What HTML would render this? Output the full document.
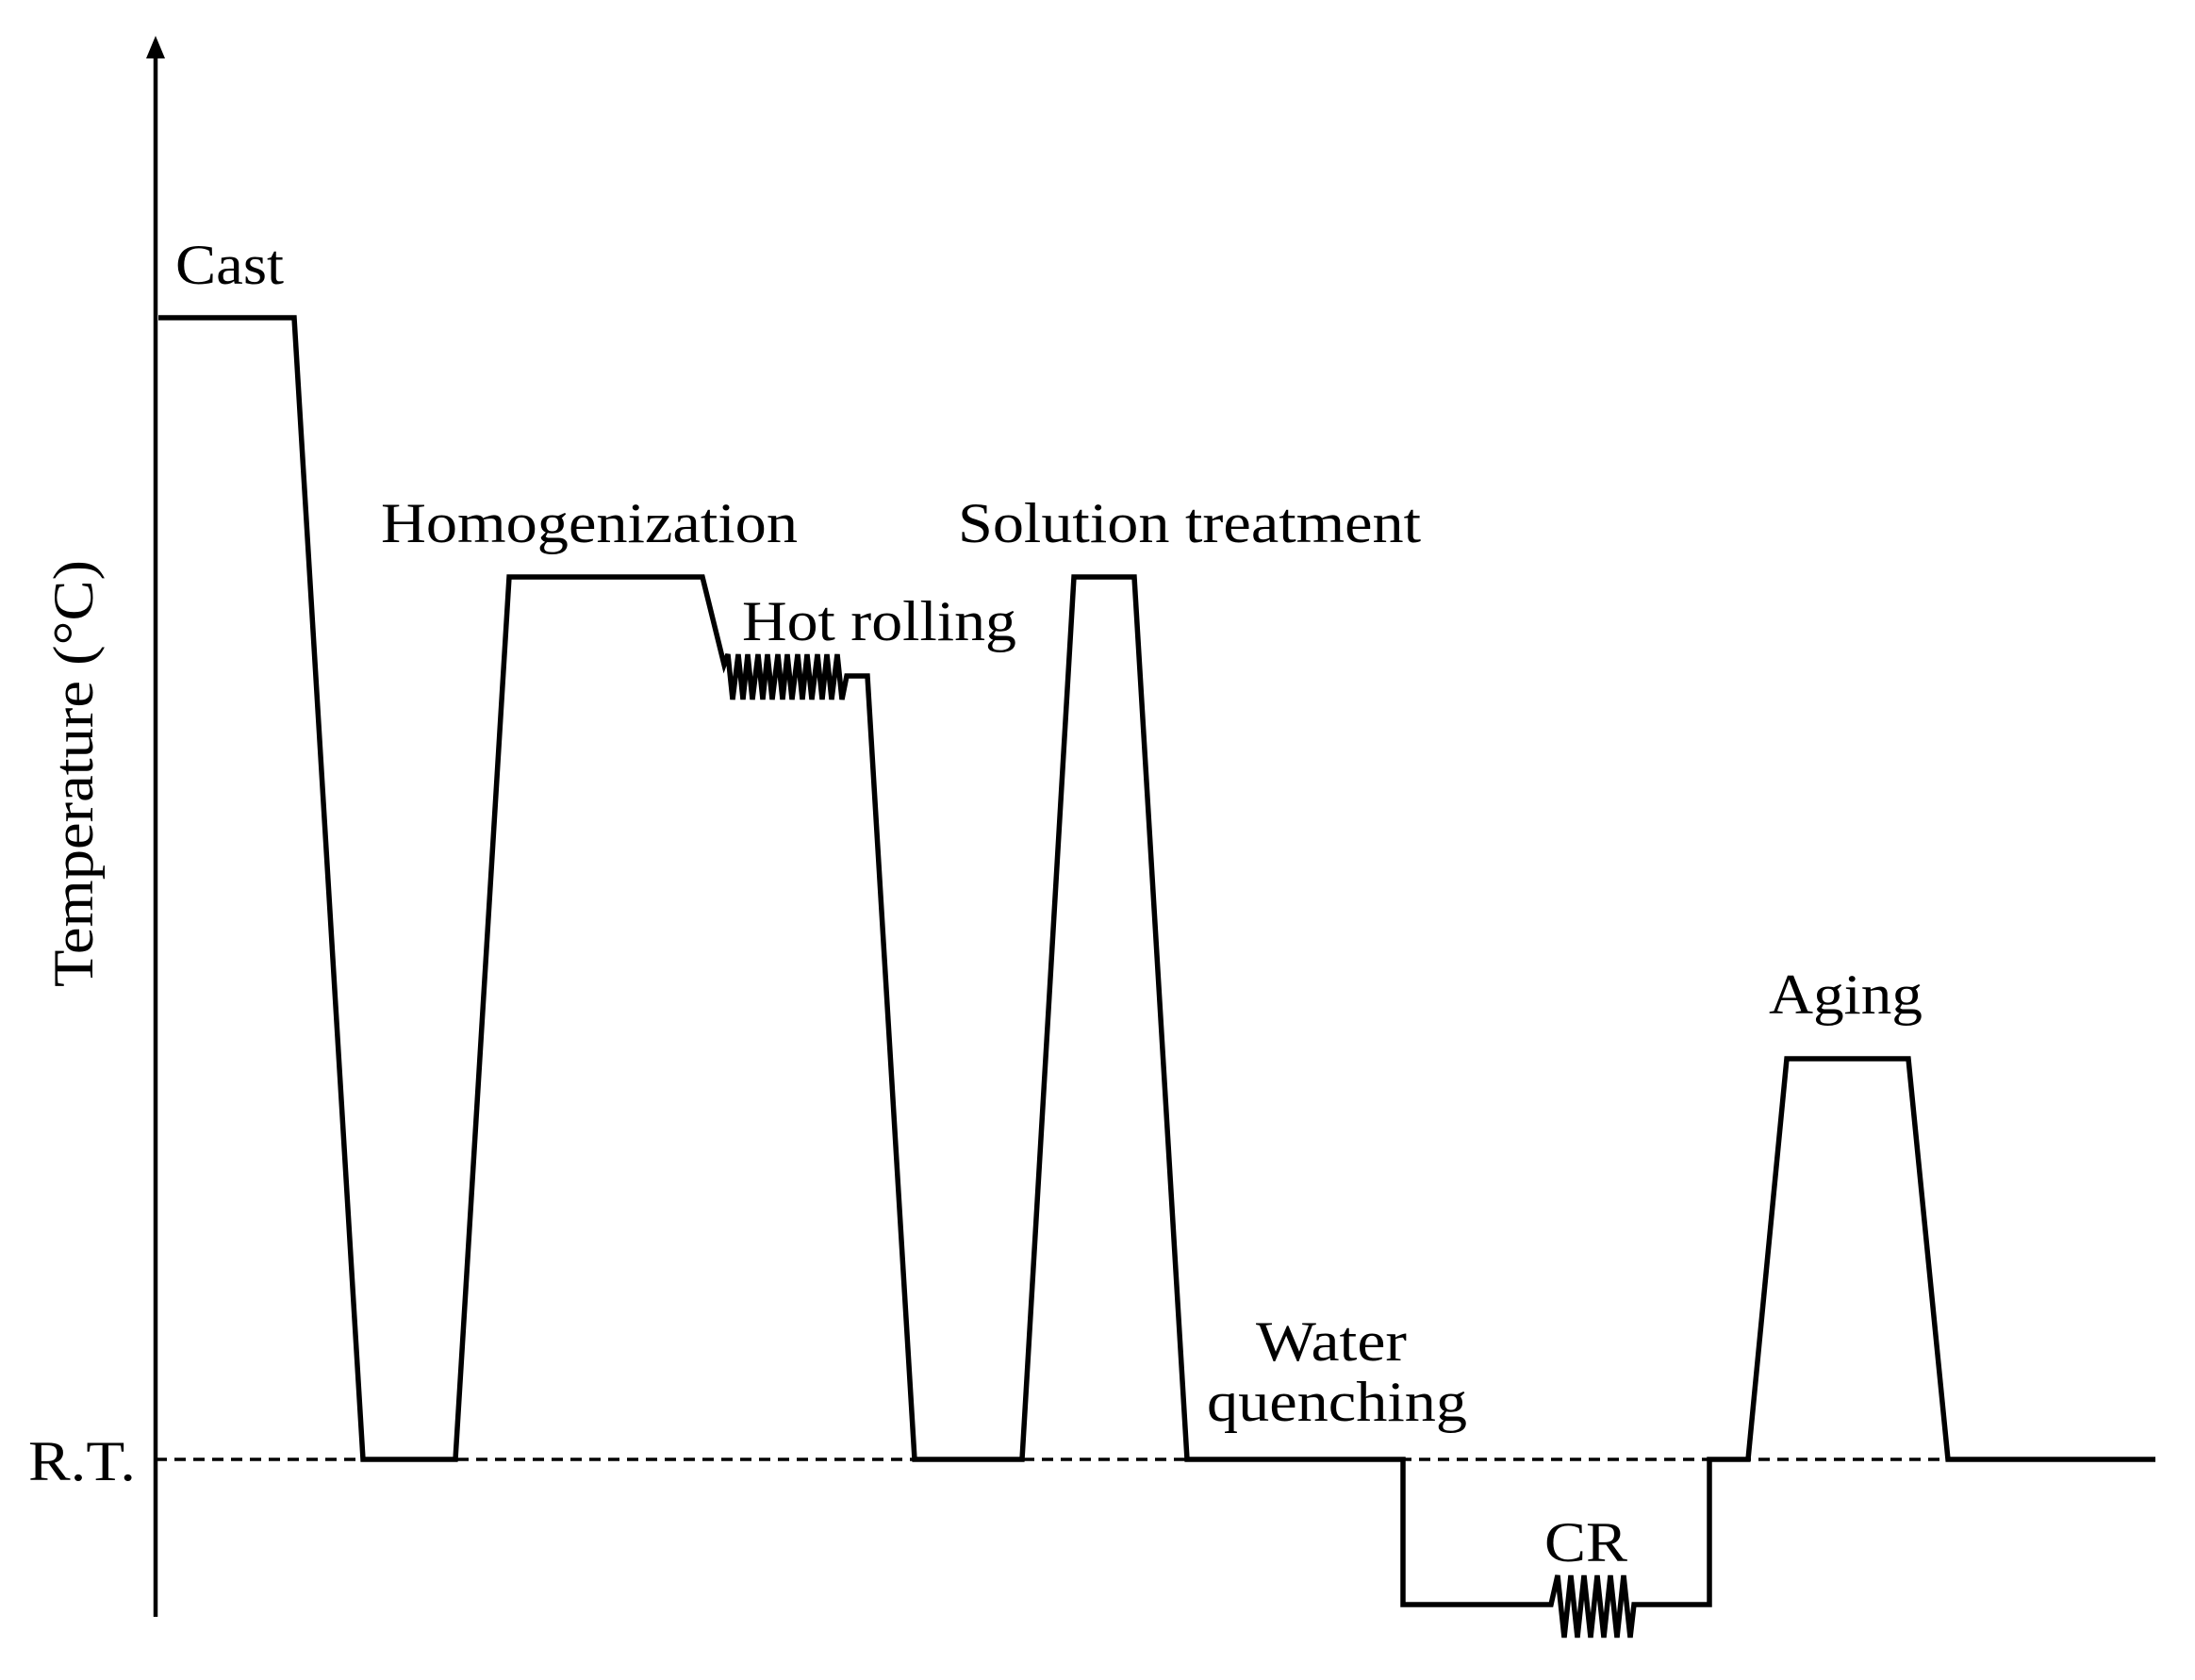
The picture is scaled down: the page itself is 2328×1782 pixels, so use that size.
<!DOCTYPE html>
<html><head><meta charset="utf-8"><style>
html,body{margin:0;padding:0;background:#fff;}
svg{display:block;}
text{font-family:"Liberation Serif","Times New Roman",serif;fill:#000;}
</style></head><body>
<svg width="2328" height="1782" viewBox="0 0 2328 1782" xmlns="http://www.w3.org/2000/svg">
<rect width="2328" height="1782" fill="#fff"/>
<line x1="165" y1="52" x2="165" y2="1715" stroke="#000" stroke-width="4.5"/>
<polygon points="165,38 155,62 175,62" fill="#000"/>
<line x1="165" y1="1548" x2="2286" y2="1548" stroke="#000" stroke-width="3.5" stroke-dasharray="12,8"/>
<g fill="none" stroke="#000" stroke-width="5.5" stroke-linejoin="miter">
<polyline points="168,337 312,337 385,1548 483,1548 540,612 745,612 768,705 772,694 777,742 783,694 788,742 793,694 798,742 804,694 809,742 814,694 819,742 825,694 830,742 835,694 840,742 846,694 851,742 856,694 861,742 867,694 872,742 877,694 882,742 888,694 893,742 898,717 920,717 970,1548 1084,1548 1139,612 1203,612 1259,1548 1488,1548 1488,1702 1645,1702 1652,1671 1659,1737 1666,1671 1673,1737 1680,1671 1687,1737 1694,1671 1701,1737 1708,1671 1715,1737 1722,1671 1729,1737 1733,1702 1813,1702 1813,1548 1854,1548 1895,1123 2024,1123 2066,1548 2286,1548"/>
</g>
<g font-size="60">
<text x="186" y="301" textLength="115" lengthAdjust="spacingAndGlyphs">Cast</text>
<text x="404" y="575" textLength="442" lengthAdjust="spacingAndGlyphs">Homogenization</text>
<text x="787" y="679" textLength="291" lengthAdjust="spacingAndGlyphs">Hot rolling</text>
<text x="1016" y="575" textLength="491" lengthAdjust="spacingAndGlyphs">Solution treatment</text>
<text x="1332" y="1443" textLength="160" lengthAdjust="spacingAndGlyphs">Water</text>
<text x="1280" y="1507" textLength="276" lengthAdjust="spacingAndGlyphs">quenching</text>
<text x="1638" y="1656" textLength="88" lengthAdjust="spacingAndGlyphs">CR</text>
<text x="1876" y="1075" textLength="163" lengthAdjust="spacingAndGlyphs">Aging</text>
<text x="30" y="1570" textLength="114" lengthAdjust="spacingAndGlyphs">R.T.</text>
<text transform="translate(98,1047) rotate(-90)" textLength="453" lengthAdjust="spacingAndGlyphs">Temperature (°C)</text>
</g>
</svg>
</body></html>
